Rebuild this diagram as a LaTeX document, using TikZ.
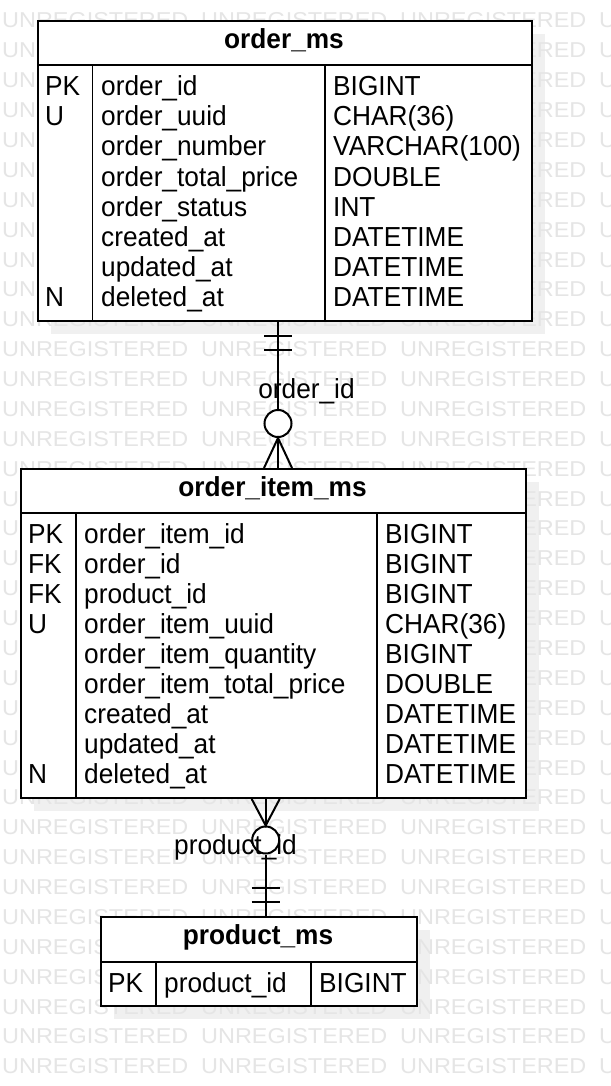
\documentclass[tikz,border=0pt]{standalone}
\usepackage{fontspec}
\setmainfont[FakeStretch=0.955]{Liberation Sans}
\newfontfamily\wmfont[FakeStretch=1.09]{Liberation Sans}
\usetikzlibrary{calc}
\begin{document}
\begin{tikzpicture}[x=1pt,y=-1pt,
  tbl/.style={draw, line width=2pt, fill=white, inner sep=0pt, anchor=north west},
  sep/.style={line width=2pt},
  col/.style={line width=1.3pt},
  shd/.style={fill=black!6},
  cell/.style={anchor=base west, inner sep=0pt, font=\fontsize{27.5}{30}\selectfont},
  ttl/.style={anchor=base, inner sep=0pt, font=\fontsize{27.5}{30}\selectfont\bfseries},
  lbl/.style={anchor=base, inner sep=0pt, font=\fontsize{27.5}{30}\selectfont},
  conn/.style={line width=2pt},
  opt/.style={circle, draw, line width=2pt, fill=white, minimum size=27pt, inner sep=0pt},
  wm/.style={anchor=base west, inner sep=0pt, text=black!10, font=\wmfont\fontsize{21.5}{24}\selectfont}]

\useasboundingbox (0,0) rectangle (610,1086);
\fill[white] (0,0) rectangle (610,1086);

% shadows
\fill[shd] (51,34) rectangle (545,334);
\fill[shd] (34,482) rectangle (539,811);
\fill[shd] (114,930) rectangle (430,1019);

% watermark
\foreach \r in {0,...,35} {
  \foreach \c in {0,...,3} {
    \node[wm] (wm-\r-\c) at ({2+199*\c},{28+29.88*\r}) {UNREGISTERED};
  }
}

% ---------- order_ms ----------
\node[tbl, minimum width=494pt, minimum height=300pt] (om) at (37,20) {};
\draw[sep] (om.west |- 0,65) -- (om.east |- 0,65);
\draw[col] (92.5,65) -- (92.5,320);
\draw[col] (325,65) -- (325,320);
\node[ttl] (om-title) at (284,48.5) {order\_ms};
\foreach \k/\n/\t [count=\i from 0] in {
  PK/order\_id/BIGINT,
  U/order\_uuid/CHAR(36),
  /order\_number/VARCHAR(100),
  /order\_total\_price/DOUBLE,
  /order\_status/INT,
  /created\_at/DATETIME,
  /updated\_at/DATETIME,
  N/deleted\_at/DATETIME} {
  \node[cell] (om-k\i) at (45,{96+30*\i}) {\k};
  \node[cell] (om-n\i) at (101,{96+30*\i}) {\n};
  \node[cell] (om-t\i) at (333,{96+30*\i}) {\t};
}

% ---------- order_item_ms ----------
\node[tbl, minimum width=505pt, minimum height=329pt] (oim) at (20,468) {};
\draw[sep] (oim.west |- 0,513) -- (oim.east |- 0,513);
\draw[col] (76,513) -- (76,797);
\draw[col] (377,513) -- (377,797);
\node[ttl] (oim-title) at (272.5,496.5) {order\_item\_ms};
\foreach \k/\n/\t [count=\i from 0] in {
  PK/order\_item\_id/BIGINT,
  FK/order\_id/BIGINT,
  FK/product\_id/BIGINT,
  U/order\_item\_uuid/CHAR(36),
  /order\_item\_quantity/BIGINT,
  /order\_item\_total\_price/DOUBLE,
  /created\_at/DATETIME,
  /updated\_at/DATETIME,
  N/deleted\_at/DATETIME} {
  \node[cell] (oim-k\i) at (28,{543.5+30*\i}) {\k};
  \node[cell] (oim-n\i) at (84,{543.5+30*\i}) {\n};
  \node[cell] (oim-t\i) at (385,{543.5+30*\i}) {\t};
}

% ---------- product_ms ----------
\node[tbl, minimum width=316pt, minimum height=89pt] (pm) at (100,916) {};
\draw[sep] (pm.west |- 0,962) -- (pm.east |- 0,962);
\draw[col] (156,962) -- (156,1005);
\draw[col] (311,962) -- (311,1005);
\node[ttl] (pm-title) at (258,944.5) {product\_ms};
\node[cell] (pm-k0) at (108,992) {PK};
\node[cell] (pm-n0) at (164,992) {product\_id};
\node[cell] (pm-t0) at (319,992) {BIGINT};

% ---------- connector order_ms -> order_item_ms ----------
\node[opt] (c1) at (278,423.5) {};
\draw[conn] (om.south -| c1) -- (c1.north);
\draw[conn] ($(om.south -| c1)+(-14,14)$) -- ++(28,0);
\draw[conn] ($(om.south -| c1)+(-14,28)$) -- ++(28,0);
\draw[conn] ($(oim.north -| c1)+(-14,0)$) -- (c1.south) -- ($(oim.north -| c1)+(14,0)$);
\draw[conn] (c1.south) -- (oim.north -| c1);
\node[lbl] (l1) at (306.5,398) {order\_id};

% ---------- connector order_item_ms -> product_ms ----------
\node[opt] (c2) at (265.7,840) {};
\draw[conn] ($(oim.south -| c2)+(-14,0)$) -- (c2.north) -- ($(oim.south -| c2)+(14,0)$);
\draw[conn] (oim.south -| c2) -- (c2.north);
\draw[conn] (c2.south) -- (pm.north -| c2);
\draw[conn] ($(pm.north -| c2)+(-14,-28)$) -- ++(28,0);
\draw[conn] ($(pm.north -| c2)+(-14,-14)$) -- ++(28,0);
\node[lbl] (l2) at (235.5,854) {product\_id};
\end{tikzpicture}
\end{document}
